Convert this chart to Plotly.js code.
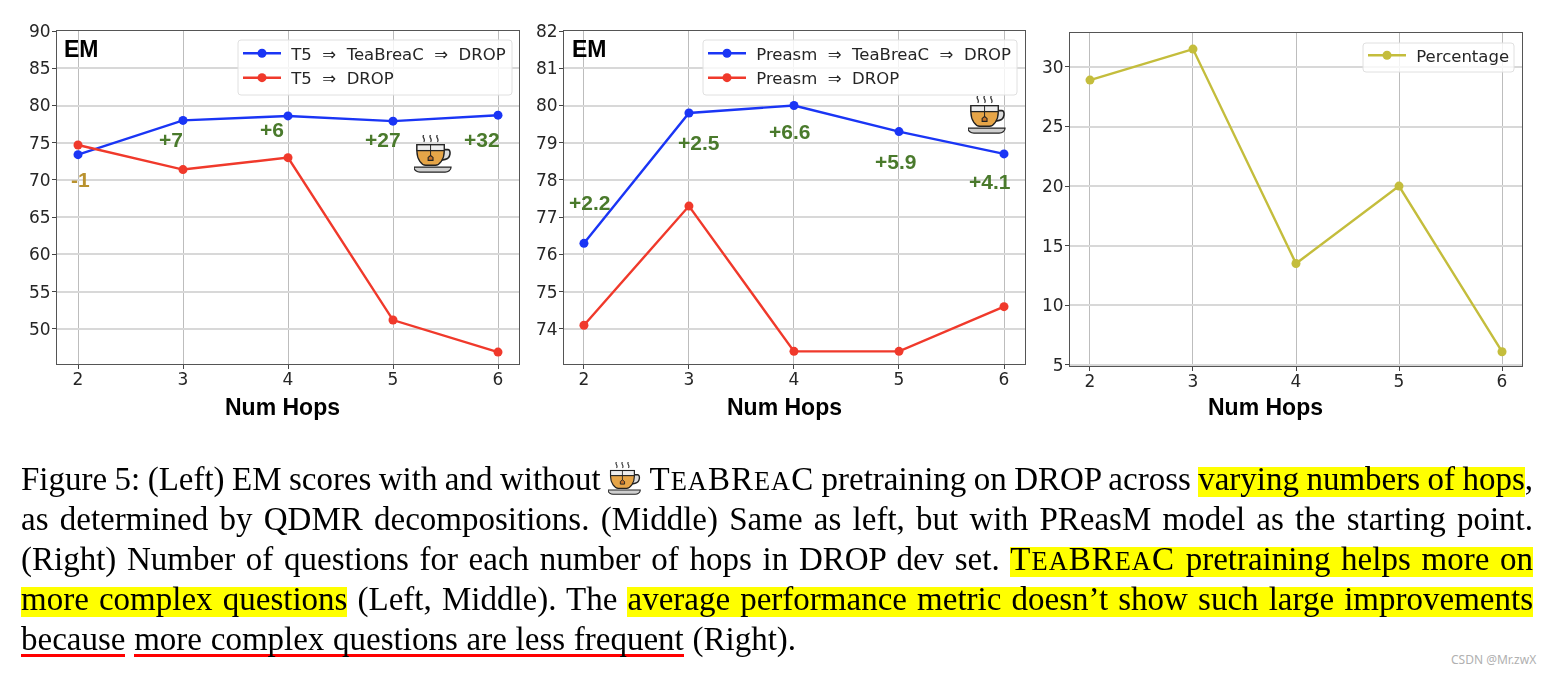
<!DOCTYPE html>
<html>
<head>
<meta charset="utf-8">
<script src="https://cdn.plot.ly/plotly-3.0.1.min.js"></script>
<style>
html,body{margin:0;padding:0;background:#fff;width:1548px;height:673px;overflow:hidden}
#chart{position:absolute;left:0;top:0;width:1548px;height:673px;filter:blur(0.45px)}
.line{position:absolute;left:21px;width:1512px;height:40px;line-height:40px;font-family:"Liberation Serif",serif;font-size:33px;color:#000;white-space:nowrap;text-align:justify;text-align-last:justify;filter:blur(0.2px)}
.tight{word-spacing:-1.3px}
.last{text-align:left;text-align-last:left;word-spacing:0.5px}
.hl{background:linear-gradient(#ffff00,#ffff00) 0 100%/100% 30px no-repeat}
.ul{background:linear-gradient(#ff0000,#ff0000) 0 100%/100% 3px no-repeat}
.tea{letter-spacing:1px}
.sc{font-size:80%}
.cup{display:inline-block;width:34px;height:34px;vertical-align:-6px}
#mark{position:absolute;left:1451px;top:651px;font:12px "Noto Sans",sans-serif;color:#b0b0b0}
</style>
</head>
<body>
<div id="chart"></div>
<div class="line tight" style="top:459px">Figure 5: (Left) EM scores with and without <span id="cupSlot" class="cup"></span> <span class="tea">T<span class="sc">EA</span>BR<span class="sc">EA</span>C</span> pretraining on DROP across <span class="hl">varying numbers of hops</span>,</div>
<div class="line" style="top:499px">as determined by QDMR decompositions. (Middle) Same as left, but with PReasM model as the starting point.</div>
<div class="line" style="top:539px">(Right) Number of questions for each number of hops in DROP dev set. <span class="hl"><span class="tea">T<span class="sc">EA</span>BR<span class="sc">EA</span>C</span> pretraining helps more on</span></div>
<div class="line" style="top:579px"><span class="hl">more complex questions</span> (Left, Middle). The <span class="hl">average performance metric doesn’t show such large improvements</span></div>
<div class="line last" style="top:619px"><span class="ul">because</span> <span class="ul">more complex questions are less frequent</span> (Right).</div>
<div id="mark">CSDN @Mr.zwX</div>
<script>
const hops = [2, 3, 4, 5, 6];
const t5Tea = [73.4, 78.0, 78.6, 77.9, 78.7];
const t5Drop = [74.7, 71.4, 73.0, 51.2, 46.9];
const preasmTea = [76.3, 79.8, 80.0, 79.3, 78.7];
const preasmDrop = [74.1, 77.3, 73.4, 73.4, 74.6];
const percentage = [28.9, 31.5, 13.5, 20.0, 6.1];
const t5Gain = ["-1", "+7", "+6", "+27", "+32"];
const t5GainX = [2.02, 2.886, 3.85, 4.9, 5.85];
const t5GainY = [70, 75.5, 76.8, 75.5, 75.5];
const preasmGain = ["+2.2", "+2.5", "+6.6", "+5.9", "+4.1"];
const preasmGainX = [2.05, 3.095, 3.96, 4.97, 5.87];
const preasmGainY = [77.4, 79.0, 79.3, 78.5, 77.95];

const W = 1548, H = 673;
const BLUE = "#1a35f5", RED = "#f0392b", OLIVE = "#c4bd3c", GREEN = "#4a7a2c", GOLD = "#b9922f";
const fx = px => px / W, fy = py => 1 - py / H;

const cupSvg = `<svg xmlns="http://www.w3.org/2000/svg" viewBox="0 0 40 40">
<g fill="none" stroke="#333" stroke-width="1.3"><path d="M10 0c-2.5 2.5 2.5 4 0 7"/><path d="M17 0c-2.5 2.5 2.5 4 0 7"/><path d="M24 0c-2.5 2.5 2.5 4 0 7"/></g>
<path d="M30 15h5c3 0 3 9-3 10l-4 1" fill="#ddd" stroke="#222" stroke-width="1.6"/>
<path d="M3 10h28v7c0 8-5 14-9 14h-10c-4 0-9-6-9-14z" fill="#e6a548" stroke="#222" stroke-width="1.4"/>
<rect x="3" y="10" width="28" height="6" fill="#eee" stroke="#222" stroke-width="1.3"/>
<path d="M17 10v12" stroke="#222" stroke-width="1"/>
<path d="M14.5 26v-3l2.5-2 2.5 2v3z" fill="#c8752a" stroke="#222" stroke-width="1.1"/>
<path d="M0 33h38c0 3-3 5-6 5h-26c-3 0-6-2-6-5z" fill="#cfcfcf" stroke="#222" stroke-width="1.2"/>
</svg>`;
const cupUri = "data:image/svg+xml;charset=utf-8," + encodeURIComponent(cupSvg);
document.getElementById("cupSlot").innerHTML = cupSvg;

const NB = "\u00a0";
function series(x, y, name, color, ax, legend) {
  return {x, y, name: NB + name, type: "scatter", mode: "lines+markers", xaxis: "x" + ax, yaxis: "y" + ax,
    legend, line: {color, width: 2.4}, marker: {color, size: 9}, hoverinfo: "skip"};
}
const data = [
  series(hops, t5Tea, `T5${NB}${NB}⇒${NB}${NB}TeaBreaC${NB}${NB}⇒${NB}${NB}DROP`, BLUE, "", "legend"),
  series(hops, t5Drop, `T5${NB}${NB}⇒${NB}${NB}DROP`, RED, "", "legend"),
  series(hops, preasmTea, `Preasm${NB}${NB}⇒${NB}${NB}TeaBreaC${NB}${NB}⇒${NB}${NB}DROP`, BLUE, "2", "legend2"),
  series(hops, preasmDrop, `Preasm${NB}${NB}⇒${NB}${NB}DROP`, RED, "2", "legend2"),
  series(hops, percentage, "Percentage", OLIVE, "3", "legend3")
];

const tickFont = {family: "DejaVu Sans", size: 17, color: "#262626"};
function xAxis(l, r, anchor, range) {
  return {domain: [fx(l), fx(r)], range, anchor, tickvals: hops, ticks: "outside", ticklen: 4, tickcolor: "#444",
    tickfont: tickFont, ticklabelstandoff: -4, showgrid: true, gridcolor: "#bdbdbd", gridwidth: 1, zeroline: false,
    showline: true, linecolor: "#555", linewidth: 1, mirror: true, fixedrange: true};
}
function yAxis(t, b, anchor, range, tickvals) {
  return {domain: [fy(b), fy(t)], range, anchor, tickvals, ticks: "outside", ticklen: 4, tickcolor: "#444",
    tickfont: tickFont, ticklabelstandoff: -2, showgrid: true, gridcolor: "#d8d8d8", gridwidth: 2, zeroline: false,
    showline: true, linecolor: "#555", linewidth: 1, mirror: true, fixedrange: true};
}
function legendAt(l, t) {
  return {x: fx(l), y: fy(t), xanchor: "left", yanchor: "top", bgcolor: "rgba(0,0,0,0)", borderwidth: 0,
    font: {family: "DejaVu Sans", size: 16.5, color: "#262626"},
    itemwidth: 38, itemclick: false, itemdoubleclick: false, tracegroupgap: 0};
}
function legendBox(l, t, r, b) {
  const R = 3, X = fx, Y = fy;
  return {type: "path", xref: "paper", yref: "paper", layer: "above", fillcolor: "rgba(255,255,255,0.8)",
    line: {color: "#e0e0e0", width: 1},
    path: `M${X(l + R)} ${Y(t)}L${X(r - R)} ${Y(t)}Q${X(r)} ${Y(t)} ${X(r)} ${Y(t + R)}L${X(r)} ${Y(b - R)}Q${X(r)} ${Y(b)} ${X(r - R)} ${Y(b)}L${X(l + R)} ${Y(b)}Q${X(l)} ${Y(b)} ${X(l)} ${Y(b - R)}L${X(l)} ${Y(t + R)}Q${X(l)} ${Y(t)} ${X(l + R)} ${Y(t)}Z`};
}
const annotations = [];
hops.forEach((_, i) => {
  annotations.push({xref: "x", yref: "y", x: t5GainX[i], y: t5GainY[i], text: t5Gain[i], showarrow: false,
    font: {family: "Liberation Sans", size: 21, color: i === 0 ? GOLD : GREEN, weight: 700}});
  annotations.push({xref: "x2", yref: "y2", x: preasmGainX[i], y: preasmGainY[i], text: preasmGain[i], showarrow: false,
    font: {family: "Liberation Sans", size: 21, color: GREEN, weight: 700}});
});
[[62, 49], [570, 49]].forEach(([px, py]) => annotations.push({xref: "paper", yref: "paper", x: fx(px), y: fy(py),
  xanchor: "left", yanchor: "middle", text: "EM", showarrow: false,
  font: {family: "Liberation Sans", size: 23, color: "#000", weight: 700}}));
[282, 784, 1265].forEach(px => annotations.push({xref: "paper", yref: "paper", x: fx(px), y: fy(407),
  xanchor: "center", yanchor: "middle", text: "Num Hops", showarrow: false,
  font: {family: "Liberation Sans", size: 23, color: "#000", weight: 700}}));

const cupImage = (l, t, s) => ({source: cupUri, xref: "paper", yref: "paper", x: fx(l), y: fy(t),
  sizex: s / W, sizey: s / H, xanchor: "left", yanchor: "top", sizing: "stretch", layer: "above"});

const layout = {
  width: W, height: H, autosize: false, margin: {l: 0, r: 0, t: 0, b: 0},
  paper_bgcolor: "rgba(0,0,0,0)", plot_bgcolor: "#fff", hovermode: false, showlegend: true,
  xaxis: xAxis(57, 519, "y", [1.8, 6.2]),
  yaxis: yAxis(31, 364, "x", [45.3, 90], [50, 55, 60, 65, 70, 75, 80, 85, 90]),
  xaxis2: xAxis(564, 1025, "y2", [1.81, 6.2]),
  yaxis2: yAxis(31, 364, "x2", [73.06, 82], [74, 75, 76, 77, 78, 79, 80, 81, 82]),
  xaxis3: xAxis(1070, 1522, "y3", [1.806, 6.194]),
  yaxis3: yAxis(33, 366, "x3", [4.9, 32.85], [5, 10, 15, 20, 25, 30]),
  legend: legendAt(238, 36), legend2: legendAt(703, 36), legend3: legendAt(1363, 38),
  shapes: [legendBox(238, 40, 512, 95), legendBox(703, 40, 1017, 95), legendBox(1363, 43, 1514, 72)],
  annotations,
  images: [cupImage(414, 135, 39), cupImage(968, 96, 39)]
};
Plotly.newPlot("chart", data, layout, {displayModeBar: false, staticPlot: true});
</script>
</body>
</html>
